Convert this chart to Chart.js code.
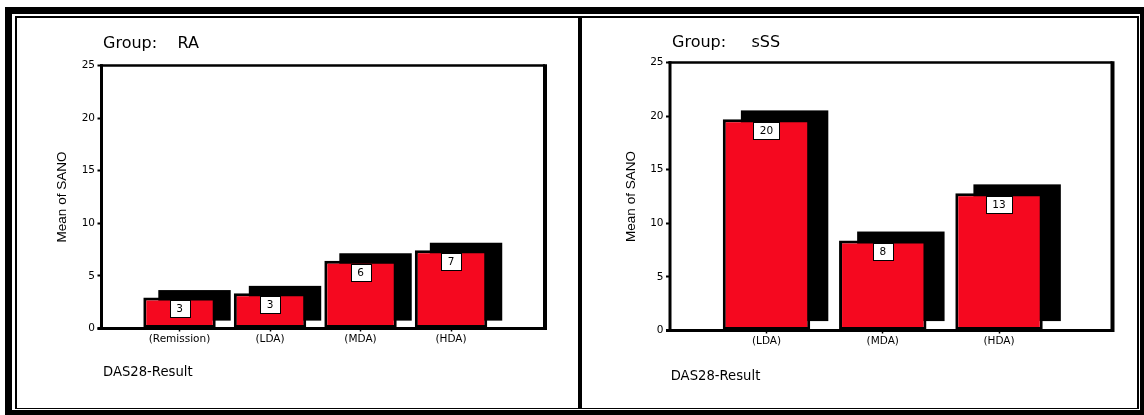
<!DOCTYPE html>
<html>
<head>
<meta charset="utf-8">
<script src="https://cdn.jsdelivr.net/npm/chart.js@4/dist/chart.umd.min.js"></script>
<style>
  html, body { margin: 0; padding: 0; background: #fff; }
  body { width: 1144px; height: 415px; position: relative; overflow: hidden; }
  .rule { position: absolute; background: #000; }
  canvas { position: absolute; left: 0; top: 0; }
</style>
</head>
<body>
<!-- double page frame and panel divider -->
<div class="rule" style="left:5px;top:7px;width:1139px;height:7px"></div>
<div class="rule" style="left:5px;top:7px;width:7px;height:408px"></div>
<div class="rule" style="left:5px;top:410px;width:1139px;height:5px"></div>
<div class="rule" style="left:1140px;top:7px;width:4px;height:408px"></div>
<div class="rule" style="left:15px;top:16px;width:1123px;height:1.5px"></div>
<div class="rule" style="left:15px;top:16px;width:2px;height:393px"></div>
<div class="rule" style="left:15px;top:407.5px;width:1123px;height:1.5px"></div>
<div class="rule" style="left:1137px;top:16px;width:1.5px;height:393px"></div>
<div class="rule" style="left:578px;top:16px;width:4px;height:393px"></div>

<canvas id="chartRA" width="1144" height="415" style="width:1144px;height:415px"></canvas>
<canvas id="chartSSS" width="1144" height="415" style="width:1144px;height:415px"></canvas>

<script>
// Mean SANO by DAS28 activity class, per patient group
const raCategories = ['(Remission)', '(LDA)', '(MDA)', '(HDA)'];
const raMeans = [2.95, 3.35, 6.45, 7.45];
const sssCategories = ['(LDA)', '(MDA)', '(HDA)'];
const sssMeans = [19.7, 8.4, 12.8];
const yTickValues = [0, 5, 10, 15, 20, 25];

const BAR_RED = '#f5081f';
const SANS = '"DejaVu Sans", sans-serif';
const ARIAL = '"Liberation Sans", Arial, sans-serif';

// Frame, captions, drop shadows behind the bars and value boxes on top of them
const panelDecor = {
  id: 'panelDecor',
  beforeDatasetsDraw(chart, args, opts) {
    const ctx = chart.ctx, a = chart.chartArea;
    ctx.save();
    ctx.fillStyle = '#000';
    ctx.textAlign = 'left';
    ctx.textBaseline = 'alphabetic';
    ctx.font = '16px ' + SANS;
    ctx.fillText(opts.caption, a.left + opts.captionDx, a.top - opts.captionRise);
    ctx.font = '13.2px ' + SANS;
    ctx.fillText(opts.axisCaption, a.left + opts.axisCaptionDx, a.bottom + opts.axisCaptionDrop);

    // plot frame: thin top, axis lines, heavier right edge
    ctx.fillRect(a.left - 1.5, a.top - 1.25, a.right - a.left + 1.5, 2.5);
    ctx.fillRect(a.left - 1.5, a.top - 1.25, 3, a.bottom - a.top + 2.75);
    ctx.fillRect(a.left - 4, a.bottom - 1.5, a.right - a.left + 4, 3);
    ctx.fillRect(a.right - 2, a.top - 1.25, 4, a.bottom - a.top + 2.75);

    // offset black block behind every bar
    chart.getDatasetMeta(0).data.forEach(el => {
      const {x, y, base, width} = el.getProps(['x', 'y', 'base', 'width'], true);
      const dx = width * 0.207, dy = width * 0.102;
      ctx.fillRect(x - width / 2 + dx, y - dy, width, base - y);
    });
    ctx.restore();
  },
  afterDatasetsDraw(chart) {
    const ctx = chart.ctx;
    const points = chart.data.datasets[0].data;
    ctx.save();
    ctx.font = '10.5px ' + SANS;
    chart.getDatasetMeta(0).data.forEach((el, i) => {
      const {x, y} = el.getProps(['x', 'y'], true);
      const text = String(Math.round(points[i].y));
      const w = Math.round(ctx.measureText(text).width + 13);
      const h = 17;
      const left = Math.round(x - w / 2) + 0.5;
      const top = Math.round(y + 3) + 0.5;
      ctx.fillStyle = '#fff';
      ctx.fillRect(left, top, w, h);
      ctx.strokeStyle = '#000';
      ctx.lineWidth = 1;
      ctx.strokeRect(left, top, w, h);
      ctx.fillStyle = '#000';
      ctx.textAlign = 'center';
      ctx.textBaseline = 'middle';
      ctx.fillText(text, x, top + h / 2);
    });
    ctx.restore();
  }
};

function makePanel(canvasId, categories, means, cfg) {
  return new Chart(document.getElementById(canvasId), {
    type: 'bar',
    data: {
      datasets: [{
        data: categories.map((c, i) => ({ x: i + 1, y: means[i] })),
        backgroundColor: BAR_RED,
        borderColor: '#000',
        borderWidth: 3,
        borderSkipped: false,
        categoryPercentage: 1,
        barPercentage: cfg.barPercentage
      }]
    },
    options: {
      responsive: false,
      devicePixelRatio: 1,
      animation: false,
      events: [],
      layout: { padding: cfg.padding },
      plugins: {
        legend: { display: false },
        tooltip: { enabled: false },
        title: { display: false },
        panelDecor: cfg.decor
      },
      scales: {
        x: {
          type: 'linear',
          offset: false,
          min: cfg.xMin,
          max: cfg.xMax,
          afterBuildTicks: s => { s.ticks = categories.map((c, i) => ({ value: i + 1 })); },
          afterFit: s => { s.height = 20; },
          ticks: {
            callback: v => categories[v - 1],
            autoSkip: false,
            maxRotation: 0,
            padding: 1.5,
            color: '#000',
            font: { family: SANS, size: 10.5 }
          },
          grid: { display: true, offset: false, drawOnChartArea: false, tickLength: 3, tickWidth: 1.5, color: '#000', tickColor: '#000' },
          border: { display: false }
        },
        y: {
          min: 0,
          max: 25,
          afterBuildTicks: s => { s.ticks = yTickValues.map(v => ({ value: v })); },
          afterFit: s => { s.width = 60; },
          ticks: { padding: 2.5, color: '#000', font: { family: SANS, size: 10.5 } },
          grid: { display: true, drawOnChartArea: false, tickLength: 4, tickWidth: 2, color: '#000', tickColor: '#000' },
          border: { display: false },
          title: {
            display: true,
            text: 'Mean of SANO',
            color: '#000',
            font: { family: ARIAL, size: 13.5 },
            padding: { top: cfg.yTitlePad, bottom: 0 }
          }
        }
      }
    },
    plugins: [panelDecor]
  });
}

makePanel('chartRA', raCategories, raMeans, {
  barPercentage: 0.8,
  xMin: 0.138,
  xMax: 5.038,
  padding: { left: 41.5, right: 599, top: 65.5, bottom: 66.5 },
  yTitlePad: 12.4,
  decor: {
    caption: 'Group:    RA', captionDx: 1.5, captionRise: 17.2,
    axisCaption: 'DAS28-Result', axisCaptionDx: 1.5, axisCaptionDrop: 47.5
  }
});

makePanel('chartSSS', sssCategories, sssMeans, {
  barPercentage: 0.752,
  xMin: 0.17,
  xMax: 3.976,
  padding: { left: 610, right: 31.5, top: 62.5, bottom: 64.5 },
  yTitlePad: 13.4,
  decor: {
    caption: 'Group:     sSS', captionDx: 2, captionRise: 15.8,
    axisCaption: 'DAS28-Result', axisCaptionDx: 0.7, axisCaptionDrop: 49.5
  }
});
</script>
</body>
</html>
